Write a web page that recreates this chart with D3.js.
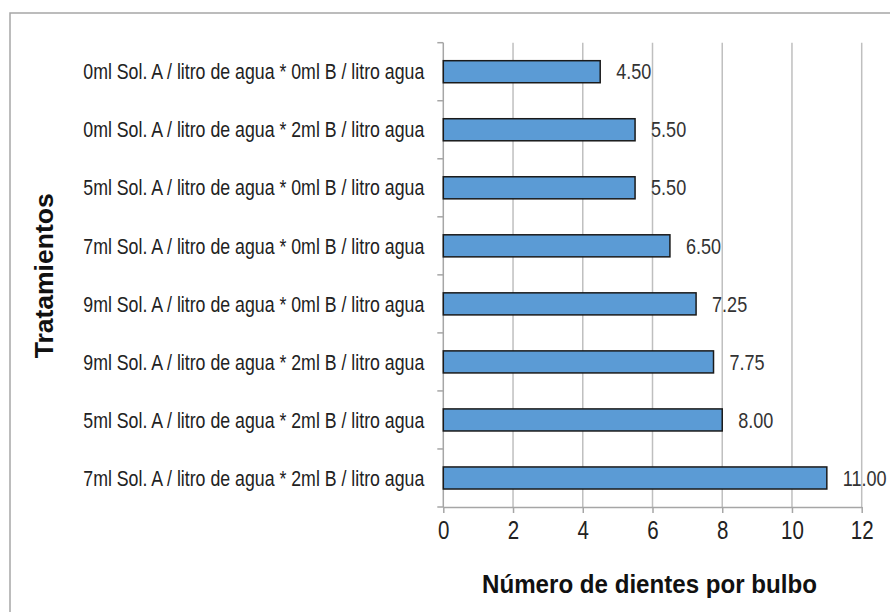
<!DOCTYPE html>
<html>
<head>
<meta charset="utf-8">
<script src="https://cdn.jsdelivr.net/npm/d3@7"></script>
<style>
  html, body { margin: 0; padding: 0; background: #fff; }
  svg { display: block; }
</style>
</head>
<body>
<svg id="chart" width="890" height="612"></svg>
<script>
// Treatments (top to bottom) and mean number of cloves per bulb
const categories = [
  "0ml Sol. A / litro de agua * 0ml B / litro agua",
  "0ml Sol. A / litro de agua * 2ml B / litro agua",
  "5ml Sol. A / litro de agua * 0ml B / litro agua",
  "7ml Sol. A / litro de agua * 0ml B / litro agua",
  "9ml Sol. A / litro de agua * 0ml B / litro agua",
  "9ml Sol. A / litro de agua * 2ml B / litro agua",
  "5ml Sol. A / litro de agua * 2ml B / litro agua",
  "7ml Sol. A / litro de agua * 2ml B / litro agua"
];
const values = [4.50, 5.50, 5.50, 6.50, 7.25, 7.75, 8.00, 11.00];
const xTicks = [0, 2, 4, 6, 8, 10, 12];
const xTitle = "Número de dientes por bulbo";
const yTitle = "Tratamientos";

const svg = d3.select("#chart");
const plot = { left: 443.3, right: 861.7, top: 42.7, bottom: 507 };
const FONT = "'Liberation Sans', Arial, sans-serif";
const NARROW = 0.82;     // horizontal condensing for the narrow label face
const NARROW_CAT = 0.806;

// outer frame
svg.append("rect")
  .attr("x", 10).attr("y", 13)
  .attr("width", 900).attr("height", 620)
  .attr("fill", "#fff")
  .attr("stroke", "#a6a6a6").attr("stroke-width", 1.5);

const x = d3.scaleLinear().domain([0, 12]).range([plot.left, plot.right]);
const y = d3.scaleBand().domain(categories).range([plot.top, plot.bottom]).paddingInner(0.62).paddingOuter(0.31);
const yBand = d3.scaleBand().domain(categories).range([plot.top, plot.bottom]);

// vertical gridlines
svg.append("g")
  .selectAll("line")
  .data(xTicks.filter(t => t > 0))
  .join("line")
  .attr("x1", d => x(d)).attr("x2", d => x(d))
  .attr("y1", plot.top).attr("y2", plot.bottom)
  .attr("stroke", "#bfbfbf").attr("stroke-width", 1.5);

// bottom axis
const xAxis = svg.append("g")
  .attr("transform", `translate(0,${plot.bottom})`)
  .call(d3.axisBottom(x).tickValues(xTicks).tickSize(6).tickPadding(8).tickSizeOuter(0).tickFormat(d3.format("d")));
xAxis.select(".domain").attr("stroke", "#a6a6a6").attr("stroke-width", 1.5);
xAxis.selectAll(".tick line").attr("stroke", "#a6a6a6").attr("stroke-width", 1.5);
xAxis.selectAll(".tick text")
  .attr("font-family", FONT).attr("font-size", 25).attr("fill", "#222");

// left axis: ticks on band boundaries
const yAxis = svg.append("g").attr("transform", `translate(${plot.left},0)`);
yAxis.append("line")
  .attr("x1", 0).attr("x2", 0).attr("y1", plot.top).attr("y2", plot.bottom)
  .attr("stroke", "#a6a6a6").attr("stroke-width", 1.5);
const boundaries = categories.map(c => yBand(c)).concat([plot.bottom]);
yAxis.selectAll("line.tk")
  .data(boundaries)
  .join("line").attr("class", "tk")
  .attr("x1", -6).attr("x2", 0)
  .attr("y1", d => d).attr("y2", d => d)
  .attr("stroke", "#a6a6a6").attr("stroke-width", 1.5);

// category labels
yAxis.selectAll("text.cat")
  .data(categories)
  .join("text").attr("class", "cat")
  .attr("x", -19)
  .attr("y", d => yBand(d) + yBand.bandwidth() / 2)
  .attr("dy", "0.35em")
  .attr("text-anchor", "end")
  .attr("font-family", FONT).attr("font-size", 22).attr("fill", "#222")
  .text(d => d);

// bars
svg.append("g")
  .selectAll("rect")
  .data(values)
  .join("rect")
  .attr("x", x(0))
  .attr("y", (d, i) => y(categories[i]))
  .attr("width", d => x(d) - x(0))
  .attr("height", y.bandwidth())
  .attr("fill", "#5b9bd5")
  .attr("stroke", "#1a1a1a").attr("stroke-width", 1.5);

// value labels
svg.append("g")
  .selectAll("text")
  .data(values)
  .join("text").attr("class", "val")
  .attr("x", d => x(d) + 16)
  .attr("y", (d, i) => yBand(categories[i]) + yBand.bandwidth() / 2)
  .attr("dy", "0.35em")
  .attr("font-family", FONT).attr("font-size", 22).attr("fill", "#333")
  .text(d => d.toFixed(2));

// condense the regular-weight texts to a narrow face
function condense(sel, k) {
  sel.each(function () {
    const len = this.getComputedTextLength();
    d3.select(this).attr("textLength", len * k).attr("lengthAdjust", "spacingAndGlyphs");
  });
}
condense(svg.selectAll("text.cat"), NARROW_CAT);
condense(svg.selectAll("text.val, .tick text"), NARROW);

// axis titles
svg.append("text")
  .attr("x", (plot.left + plot.right) / 2 - 3)
  .attr("y", 593)
  .attr("text-anchor", "middle")
  .attr("font-family", FONT).attr("font-size", 25).attr("font-weight", "bold").attr("fill", "#111")
  .attr("textLength", 335).attr("lengthAdjust", "spacingAndGlyphs")
  .text(xTitle);

svg.append("text")
  .attr("transform", `translate(53,${(plot.top + plot.bottom) / 2 + 1}) rotate(-90)`)
  .attr("text-anchor", "middle")
  .attr("font-family", FONT).attr("font-size", 26).attr("font-weight", "bold").attr("fill", "#111")
  .attr("textLength", 165).attr("lengthAdjust", "spacingAndGlyphs")
  .text(yTitle);
</script>
</body>
</html>
